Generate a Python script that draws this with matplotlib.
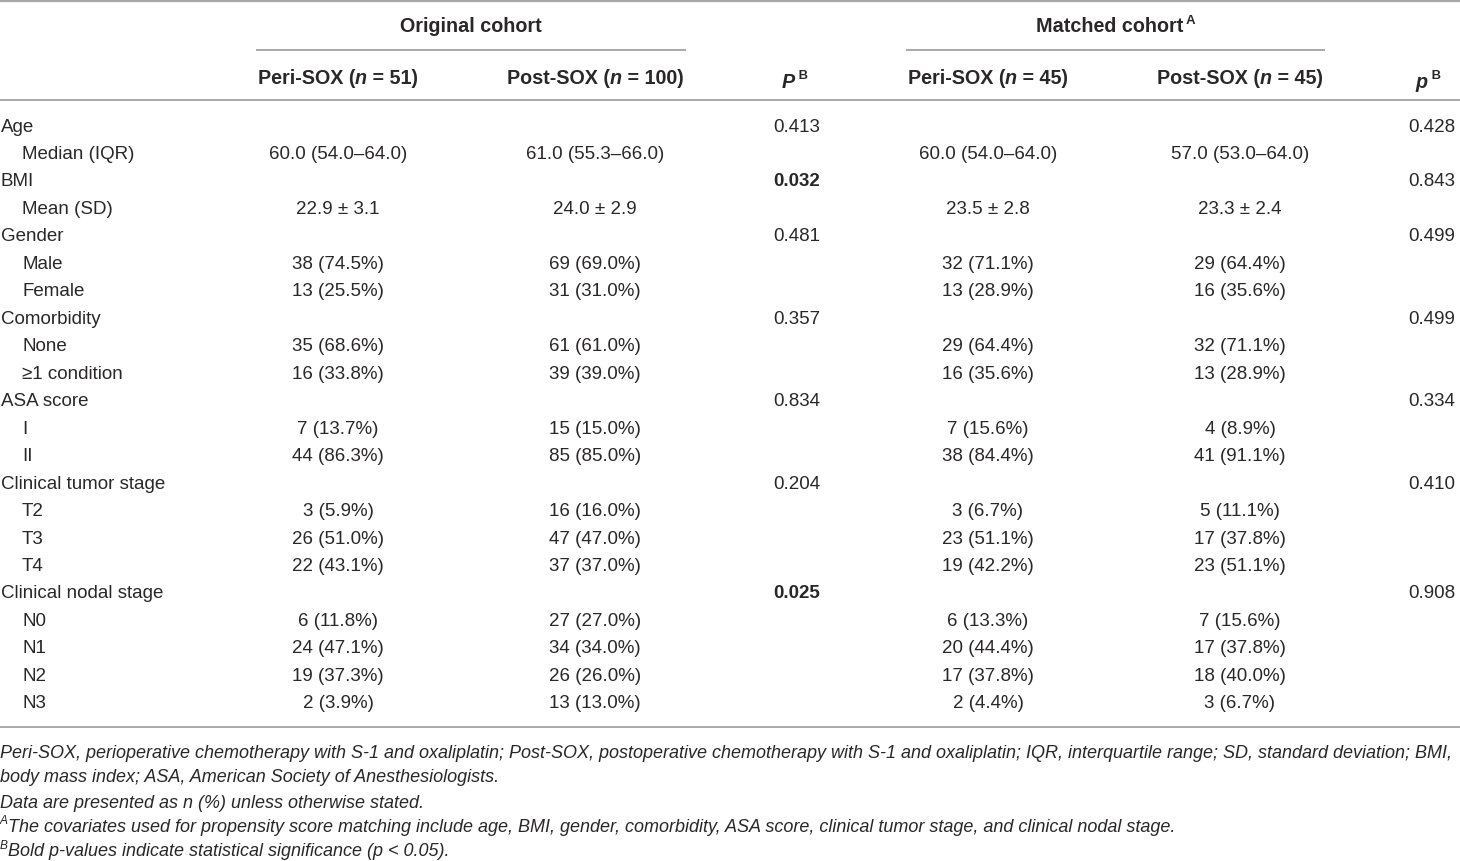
import matplotlib
matplotlib.use("Agg")
import matplotlib.pyplot as plt
from matplotlib import font_manager as fm

# ---------------- data ----------------
row_labels = ["Age", "Median (IQR)", "BMI", "Mean (SD)", "Gender", "Male", "Female",
              "Comorbidity", "None", "\u22651 condition", "ASA score", "I", "II",
              "Clinical tumor stage", "T2", "T3", "T4", "Clinical nodal stage",
              "N0", "N1", "N2", "N3"]
row_indent = [False, True, False, True, False, True, True, False, True, True, False,
              True, True, False, True, True, True, False, True, True, True, True]
peri_orig = ["", "60.0 (54.0\u201364.0)", "", "22.9 \u00b1 3.1", "", "38 (74.5%)", "13 (25.5%)",
             "", "35 (68.6%)", "16 (33.8%)", "", "7 (13.7%)", "44 (86.3%)", "", "3 (5.9%)",
             "26 (51.0%)", "22 (43.1%)", "", "6 (11.8%)", "24 (47.1%)", "19 (37.3%)", "2 (3.9%)"]
post_orig = ["", "61.0 (55.3\u201366.0)", "", "24.0 \u00b1 2.9", "", "69 (69.0%)", "31 (31.0%)",
             "", "61 (61.0%)", "39 (39.0%)", "", "15 (15.0%)", "85 (85.0%)", "", "16 (16.0%)",
             "47 (47.0%)", "37 (37.0%)", "", "27 (27.0%)", "34 (34.0%)", "26 (26.0%)", "13 (13.0%)"]
p_orig = ["0.413", "", "0.032", "", "0.481", "", "", "0.357", "", "", "0.834", "", "",
          "0.204", "", "", "", "0.025", "", "", "", ""]
p_orig_bold = [False, False, True, False, False, False, False, False, False, False, False,
               False, False, False, False, False, False, True, False, False, False, False]
peri_match = ["", "60.0 (54.0\u201364.0)", "", "23.5 \u00b1 2.8", "", "32 (71.1%)", "13 (28.9%)",
              "", "29 (64.4%)", "16 (35.6%)", "", "7 (15.6%)", "38 (84.4%)", "", "3 (6.7%)",
              "23 (51.1%)", "19 (42.2%)", "", "6 (13.3%)", "20 (44.4%)", "17 (37.8%)", "2 (4.4%)"]
post_match = ["", "57.0 (53.0\u201364.0)", "", "23.3 \u00b1 2.4", "", "29 (64.4%)", "16 (35.6%)",
              "", "32 (71.1%)", "13 (28.9%)", "", "4 (8.9%)", "41 (91.1%)", "", "5 (11.1%)",
              "17 (37.8%)", "23 (51.1%)", "", "7 (15.6%)", "17 (37.8%)", "18 (40.0%)", "3 (6.7%)"]
p_match = ["0.428", "", "0.843", "", "0.499", "", "", "0.499", "", "", "0.334", "", "",
           "0.410", "", "", "", "0.908", "", "", "", ""]

group_titles = ["Original cohort", "Matched cohort"]
group_super = ["", "A"]
arm_names = ["Peri-SOX", "Post-SOX", "Peri-SOX", "Post-SOX"]
arm_n = ["51", "100", "45", "45"]
p_heads = ["P", "p"]

footnotes = [
    ("", "Peri-SOX, perioperative chemotherapy with S-1 and oxaliplatin; Post-SOX, postoperative chemotherapy with S-1 and oxaliplatin; IQR, interquartile range; SD, standard deviation; BMI,"),
    ("", "body mass index; ASA, American Society of Anesthesiologists."),
    ("", "Data are presented as n (%) unless otherwise stated."),
    ("A", "The covariates used for propensity score matching include age, BMI, gender, comorbidity, ASA score, clinical tumor stage, and clinical nodal stage."),
    ("B", "Bold p-values indicate statistical significance (p < 0.05)."),
]

# ---------------- style ----------------
avail = {f.name for f in fm.fontManager.ttflist}
if "Liberation Sans Narrow" in avail:
    FAM = "Liberation Sans Narrow"
    FS, FS_HEAD, FS_FOOT = 16.0, 16.8, 15.5
else:
    FAM = "Liberation Sans"
    FS, FS_HEAD, FS_FOOT = 13.5, 14.2, 13.0
plt.rcParams["font.family"] = [FAM, "DejaVu Sans"]
TXT = "#2a2728"
RULE = "#a8a8a8"

W, H = 1460, 861
fig = plt.figure(figsize=(W / 100, H / 100), dpi=100)
ax = fig.add_axes([0, 0, 1, 1])
ax.set_xlim(0, W)
ax.set_ylim(H, 0)
ax.axis("off")
renderer = fig.canvas.get_renderer()


def rich(x, y, pieces, ha="center", size=FS):
    """pieces: list of (text, weight, style, superscript)"""
    objs = []
    for s, w, st, sup in pieces:
        fs = size * 0.66 if sup else size
        t = ax.text(0, y - (6 if sup else 0), s, fontsize=fs, fontweight=w, fontstyle=st,
                    color=TXT, va="center", ha="left")
        objs.append(t)
    widths = [o.get_window_extent(renderer).width for o in objs]
    total = sum(widths)
    if ha == "center":
        x0 = x - total / 2
    elif ha == "right":
        x0 = x - total
    else:
        x0 = x
    for o, wdt in zip(objs, widths):
        o.set_x(x0)
        x0 += wdt


# column positions
col_label = 1
col_indent = 22
col_c = [338, 595, 988, 1240]
col_p = [820, 1455]
grp_span = [(256, 686), (906, 1325)]
p_head_c = [795, 1428]

row_y0, row_dy = 127.0, 27.47

# rules
ax.plot([0, W], [1, 1], color=RULE, lw=1.6, solid_capstyle="butt")
ax.plot([0, W], [100, 100], color=RULE, lw=1.4, solid_capstyle="butt")
ax.plot([0, W], [727, 727], color=RULE, lw=1.4, solid_capstyle="butt")
for (a, b) in grp_span:
    ax.plot([a, b], [50, 50], color=RULE, lw=1.4, solid_capstyle="butt")

# headers
for (a, b), title, sup in zip(grp_span, group_titles, group_super):
    pcs = [(title, "bold", "normal", False)]
    if sup:
        pcs.append((" " + sup, "bold", "normal", True))
    rich((a + b) / 2, 27, pcs, size=FS_HEAD)
for c, nm, n in zip(col_c, arm_names, arm_n):
    rich(c, 78, [(nm + " (", "bold", "normal", False), ("n", "bold", "italic", False),
                 (" = " + n + ")", "bold", "normal", False)], size=FS_HEAD)
for c, ph in zip(p_head_c, p_heads):
    rich(c, 82, [(ph, "bold", "italic", False), (" B", "bold", "normal", True)], size=FS_HEAD)

# body
for i, lab in enumerate(row_labels):
    y = row_y0 + i * row_dy
    ax.text(col_indent if row_indent[i] else col_label, y, lab, fontsize=FS, color=TXT,
            va="center", ha="left")
    for c, vals in zip(col_c, [peri_orig, post_orig, peri_match, post_match]):
        if vals[i]:
            ax.text(c, y, vals[i], fontsize=FS, color=TXT, va="center", ha="center")
    if p_orig[i]:
        ax.text(col_p[0], y, p_orig[i], fontsize=FS, color=TXT, va="center", ha="right",
                fontweight="bold" if p_orig_bold[i] else "normal")
    if p_match[i]:
        ax.text(col_p[1], y, p_match[i], fontsize=FS, color=TXT, va="center", ha="right")

# footnotes
foot_y = [753.5, 778, 803, 827.5, 852]
for (sup, txt), y in zip(footnotes, foot_y):
    pcs = []
    if sup:
        pcs.append((sup, "normal", "italic", True))
    pcs.append((txt, "normal", "italic", False))
    rich(0, y, pcs, ha="left", size=FS_FOOT)

fig.savefig("out.png", dpi=100)
